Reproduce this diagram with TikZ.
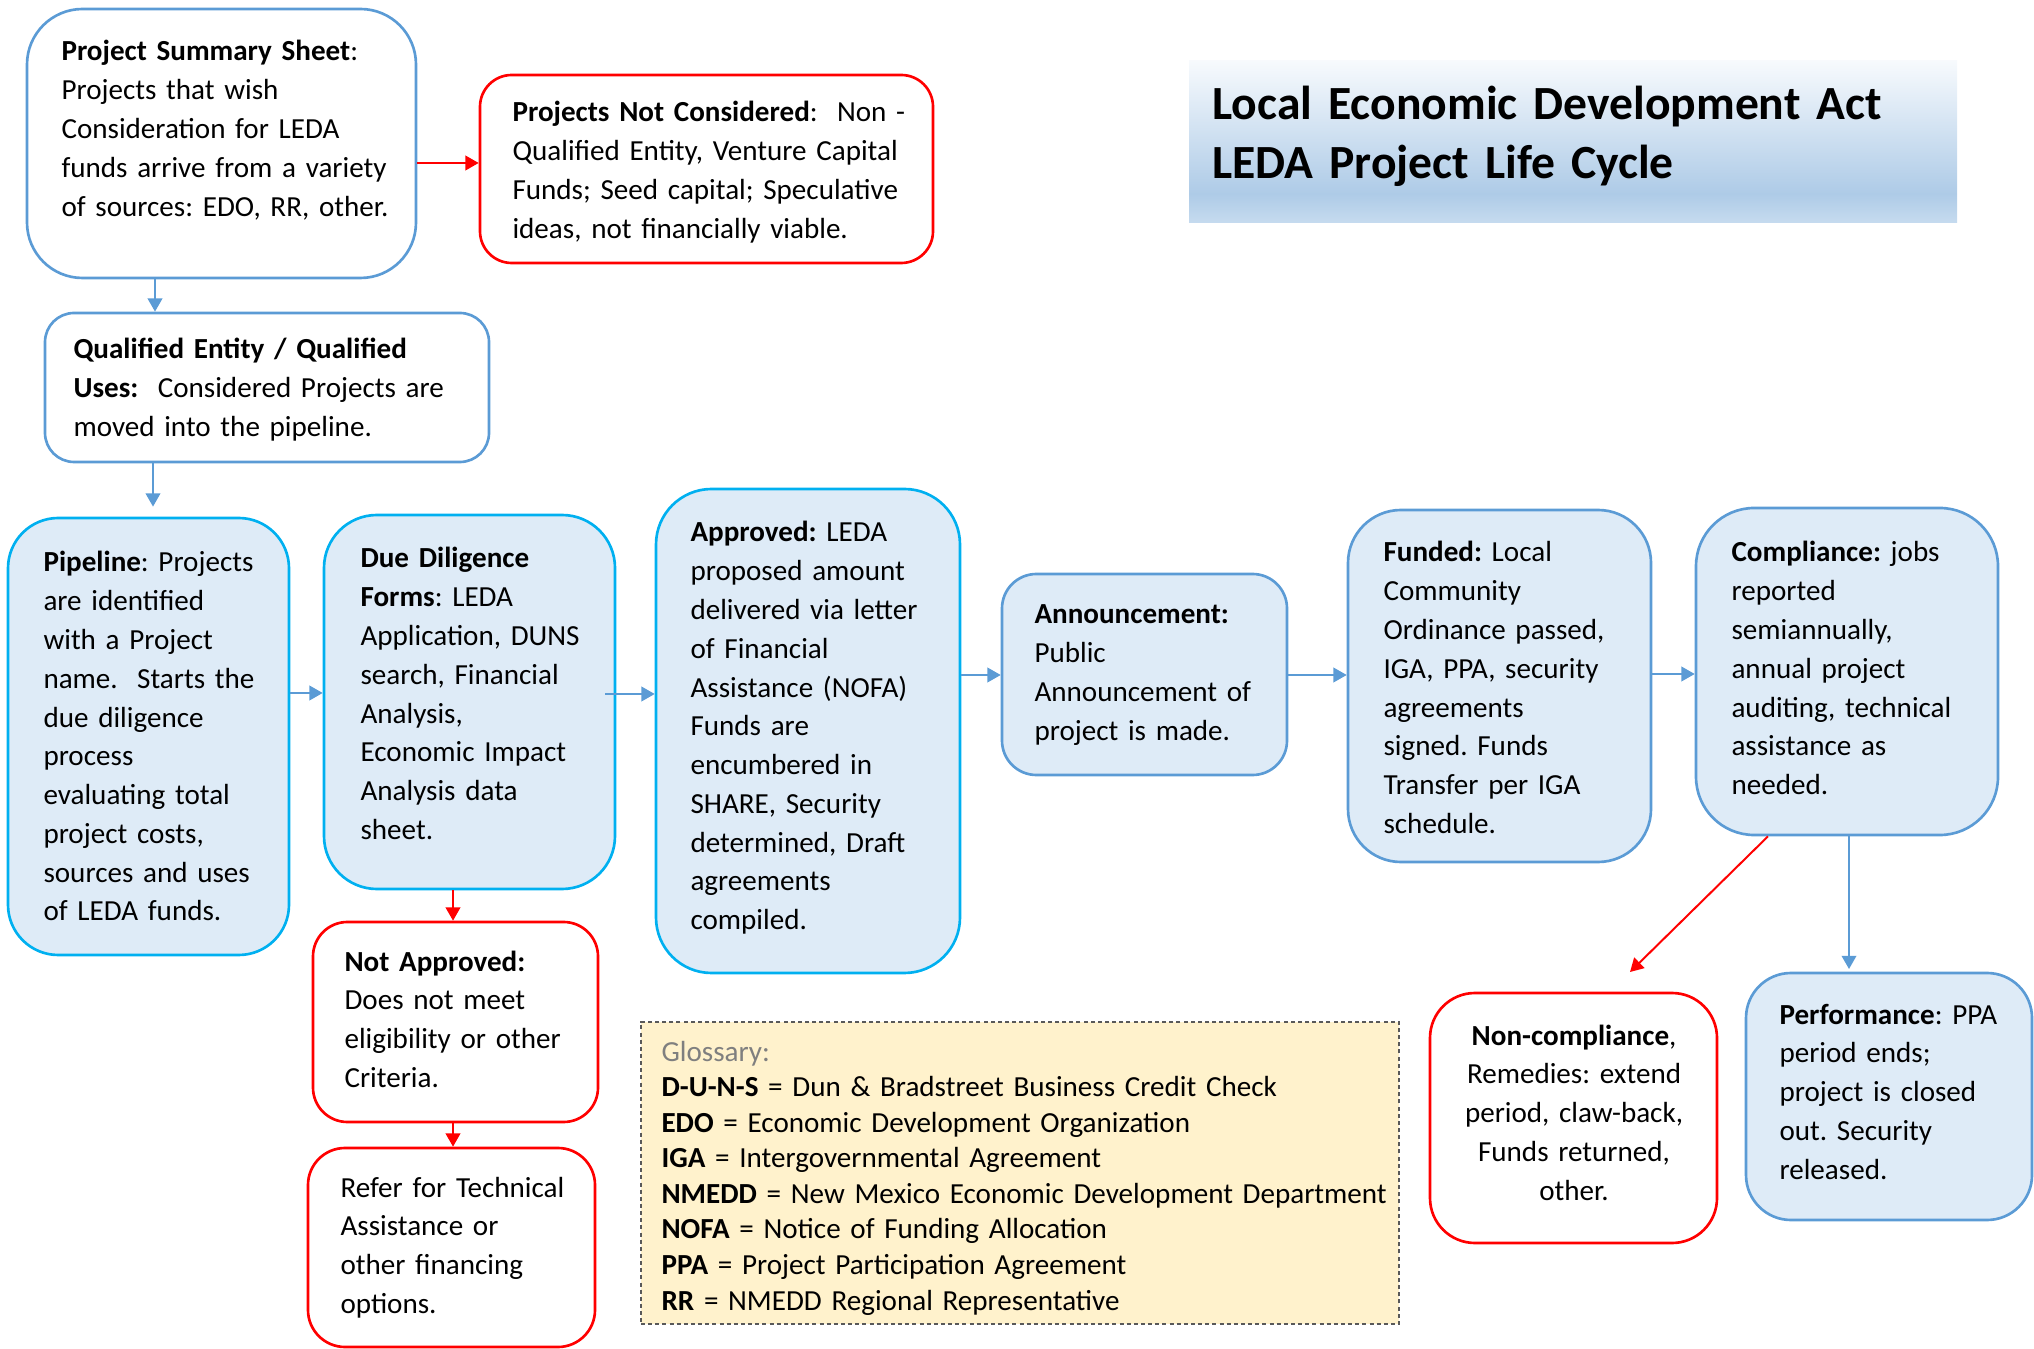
\documentclass[tikz,border=0pt]{standalone}
\usepackage{fontspec}
\setmainfont{Carlito}
\frenchspacing
\usetikzlibrary{arrows.meta,fit,calc}
\definecolor{accblue}{HTML}{5B9BD5}
\definecolor{skyblue}{HTML}{00B0F0}
\definecolor{paleblue}{HTML}{DEEBF7}
\definecolor{glossfill}{HTML}{FFF2CC}
\definecolor{glossline}{HTML}{595959}
\definecolor{glosstext}{HTML}{7F7F7F}
\definecolor{titletop}{HTML}{F7FAFD}
\definecolor{titledark}{HTML}{AECBE7}
\definecolor{titlebot}{HTML}{C6DBEF}
\pgfdeclareverticalshading{titlefade}{100bp}{color(0bp)=(titlebot); color(25bp)=(titlebot); color(34bp)=(titledark); color(75bp)=(titletop); color(100bp)=(titletop)}
\begin{document}
\begin{tikzpicture}[x=0.378pt, y=-0.378pt,
  stage/.style={draw=accblue, line width=1pt, fill=white, inner sep=0pt},
  keystage/.style={stage, draw=skyblue, fill=paleblue},
  donestage/.style={stage, fill=paleblue},
  rejectbox/.style={stage, draw=red},
  txt/.style={anchor=base west, inner sep=0pt, text width=160pt, align=left, font=\fontsize{11pt}{14.65pt}\selectfont},
  flow/.style={draw=accblue, line width=0.75pt, -{Triangle[length=5pt,width=5.5pt]}},
  reject/.style={flow, draw=red}]
\useasboundingbox (0,0) rectangle (2034,1349);

\node[shade, shading=titlefade, inner sep=0pt, fit={(1189,61) (1957,223)}] (title) {};
\node[txt, text width=300pt, font=\fontsize{18pt}{22.3pt}\selectfont\bfseries] (title-t) at (1212,120) {Local Economic Development Act\\LEDA Project Life Cycle};

\node[stage, rounded corners=21pt, fit={(27,9) (416,278)}] (pss) {};
\node[txt] (pss-t) at (61,61) {\textbf{Project Summary Sheet}:\\Projects that wish\\Consideration for LEDA\\funds arrive from a variety\\of sources: EDO, RR, other.};

\node[rejectbox, rounded corners=12pt, fit={(480,75) (933,263)}] (pnc) {};
\node[txt, text width=200pt] (pnc-t) at (512,122) {\textbf{Projects Not Considered}:\ \ Non -\\Qualified Entity, Venture Capital\\Funds; Seed capital; Speculative\\ideas, not financially viable.};

\node[stage, rounded corners=11pt, fit={(45,313) (489,462)}] (qe) {};
\node[txt, text width=200pt] (qe-t) at (73,359) {\textbf{Qualified Entity / Qualified}\\\textbf{Uses:}\ \ Considered Projects are\\moved into the pipeline.};

\node[keystage, rounded corners=19pt, fit={(8,518) (289,955)}] (pipe) {};
\node[txt] (pipe-t) at (43,572) {\textbf{Pipeline}: Projects\\are identified\\with a Project\\name.\ \ Starts the\\due diligence\\process\\evaluating total\\project costs,\\sources and uses\\of LEDA funds.};

\node[keystage, rounded corners=20pt, fit={(324,515) (615,889)}] (dd) {};
\node[txt] (dd-t) at (360,568) {\textbf{Due Diligence}\\\textbf{Forms}: LEDA\\Application, DUNS\\search, Financial\\Analysis,\\Economic Impact\\Analysis data\\sheet.};

\node[keystage, rounded corners=21pt, fit={(656,489) (960,973)}] (appr) {};
\node[txt] (appr-t) at (690,542) {\textbf{Approved:} LEDA\\proposed amount\\delivered via letter\\of Financial\\Assistance (NOFA)\\Funds are\\encumbered in\\SHARE, Security\\determined, Draft\\agreements\\compiled.};

\node[donestage, rounded corners=13pt, fit={(1002,574) (1287,775)}] (ann) {};
\node[txt] (ann-t) at (1034,624) {\textbf{Announcement:}\\Public\\Announcement of\\project is made.};

\node[donestage, rounded corners=20pt, fit={(1348,510) (1651,862)}] (fund) {};
\node[txt] (fund-t) at (1383,562) {\textbf{Funded:} Local\\Community\\Ordinance passed,\\IGA, PPA, security\\agreements\\signed. Funds\\Transfer per IGA\\schedule.};

\node[donestage, rounded corners=22pt, fit={(1696,508) (1998,835)}] (comp) {};
\node[txt] (comp-t) at (1731,562) {\textbf{Compliance:} jobs\\reported\\semiannually,\\annual project\\auditing, technical\\assistance as\\needed.};

\node[rejectbox, rounded corners=17pt, fit={(1430,993) (1717,1243)}] (noncomp) {};
\node[txt, anchor=base, align=center] (noncomp-t) at (1574,1045) {\textbf{Non-compliance},\\Remedies: extend\\period, claw-back,\\Funds returned,\\other.};

\node[donestage, rounded corners=17pt, fit={(1746,973) (2032,1220)}] (perf) {};
\node[txt] (perf-t) at (1779,1024) {\textbf{Performance}: PPA\\period ends;\\project is closed\\out. Security\\released.};

\node[rejectbox, rounded corners=13pt, fit={(313,922) (598,1122)}] (notapp) {};
\node[txt] (notapp-t) at (344,971) {\textbf{Not Approved:}\\Does not meet\\eligibility or other\\Criteria.};

\node[rejectbox, rounded corners=14pt, fit={(308,1148) (595,1347)}] (refer) {};
\node[txt] (refer-t) at (340,1197) {Refer for Technical\\Assistance or\\other financing\\options.};

\node[draw=glossline, fill=glossfill, line width=0.6pt, dash pattern=on 1.5pt off 1.2pt, inner sep=0pt, fit={(641,1022) (1399,1324)}] (gloss) {};
\node[txt, text width=300pt, font=\fontsize{11pt}{13.45pt}\selectfont] (gloss-t) at (661,1061) {\textcolor{glosstext}{Glossary:}\\\textbf{D-U-N-S} = Dun \& Bradstreet Business Credit Check\\\textbf{EDO} = Economic Development Organization\\\textbf{IGA} = Intergovernmental Agreement\\\textbf{NMEDD} = New Mexico Economic Development Department\\\textbf{NOFA} = Notice of Funding Allocation\\\textbf{PPA} = Project Participation Agreement\\\textbf{RR} = NMEDD Regional Representative};

\draw[flow] (pss.south -| 155,0) -- (qe.north -| 155,0);
\draw[flow, shorten >=3.8pt] (qe.south -| 153,0) -- (pipe.north -| 153,0);
\draw[reject] (pss.east |- 0,163) -- (pnc.west |- 0,163);
\draw[flow] (pipe.east |- 0,693) -- (dd.west |- 0,693);
\draw[flow] ($(dd.east |- 0,694)+(-11,0)$) -- (appr.west |- 0,694);
\draw[flow] (appr.east |- 0,675) -- (ann.west |- 0,675);
\draw[flow] (ann.east |- 0,675) -- (fund.west |- 0,675);
\draw[flow] (fund.east |- 0,674) -- (comp.west |- 0,674);
\coordinate (nc-in) at (1630,972);
\draw[reject] (comp.south -| 1768,0) -- (nc-in);
\draw[flow, shorten >=1pt] (comp.south -| 1849,0) -- (perf.north -| 1849,0);
\draw[reject] (dd.south -| 453,0) -- (notapp.north -| 453,0);
\draw[reject] (notapp.south -| 453,0) -- (refer.north -| 453,0);
\end{tikzpicture}
\end{document}
